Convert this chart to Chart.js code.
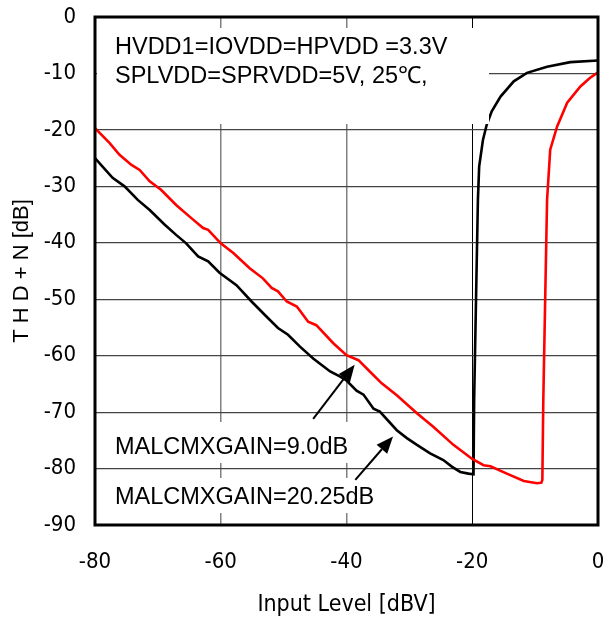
<!DOCTYPE html>
<html>
<head>
<meta charset="utf-8">
<script src="https://cdn.jsdelivr.net/npm/chart.js@4.4.0/dist/chart.umd.min.js"></script>
<style>
  html, body { margin: 0; padding: 0; background: #fff; }
  canvas { display: block; }
</style>
</head>
<body>
<canvas id="thd-chart" width="605" height="630"></canvas>
<script>
// THD+N vs input level, two gain settings
const inputGain2025 = [-80, -78.8, -77.2, -75.3, -73.2, -71.3, -68.9, -67.1, -65.5, -63.6, -62.0, -60.2, -57.5, -55.1, -52.7, -50.9, -49.3, -47.4, -45.3, -42.6, -41.0, -40.0, -38.4, -37.3, -35.7, -34.7, -32.0, -30.4, -28.8, -26.7, -24.6, -23.2, -21.9, -20.6, -19.8, -19.7, -19.4, -19.1, -18.9, -18.3, -17.7, -16.9, -15.5, -13.4, -11.3, -8.1, -4.4, 0];
const thdGain2025 = [-25.0, -26.5, -28.5, -30.0, -32.4, -34.2, -36.8, -38.6, -40.1, -42.4, -43.3, -45.3, -47.5, -50.4, -53.1, -55.1, -56.3, -58.4, -60.5, -62.8, -63.7, -64.4, -66.2, -66.9, -69.4, -69.9, -73.2, -74.6, -75.8, -77.3, -78.5, -79.7, -80.6, -80.9, -81.0, -68.0, -50.0, -32.4, -26.5, -21.8, -19.1, -16.7, -14.1, -11.4, -9.9, -8.8, -8.0, -7.7];

const inputGain90 = [-80, -77.7, -76.1, -74.2, -72.9, -71.3, -69.5, -67.1, -64.4, -62.8, -62.0, -60.0, -58.0, -55.4, -53.3, -51.9, -50.9, -49.5, -47.9, -46.1, -44.8, -42.1, -40.0, -38.1, -36.3, -34.4, -32.0, -28.8, -26.2, -23.0, -20.0, -18.2, -17.1, -14.5, -11.8, -9.7, -9.0, -8.85, -8.7, -8.4, -8.1, -7.6, -6.5, -4.9, -2.8, -1.3, 0];
const thdGain90 = [-19.7, -22.3, -24.4, -26.2, -27.1, -29.1, -30.6, -33.3, -35.9, -37.4, -37.7, -40.1, -41.8, -44.5, -46.3, -48.0, -48.6, -50.4, -51.3, -54.0, -54.6, -57.8, -59.9, -60.8, -62.8, -64.9, -67.0, -70.2, -72.6, -75.8, -78.3, -79.4, -79.6, -80.9, -82.2, -82.6, -82.5, -82.0, -67.9, -50.0, -32.4, -23.5, -19.4, -15.2, -12.3, -10.8, -9.8];

const xTicks = [-80, -60, -40, -20, 0];
const yTicks = [0, -10, -20, -30, -40, -50, -60, -70, -80, -90];

const noteLines = ["HVDD1=IOVDD=HPVDD =3.3V", "SPLVDD=SPRVDD=5V, 25\u2103,"];
const gainLabels = ["MALCMXGAIN=9.0dB", "MALCMXGAIN=20.25dB"];
// arrows [fromX, fromY, toX, toY] in axis units
const gainArrows = [
  [-45.3, -71.2, -38.7, -61.6],
  [-38.6, -82.0, -32.6, -74.3],
];

const narrowFont = "'Liberation Sans Narrow', 'Arial Narrow', 'DejaVu Sans Condensed', 'Liberation Sans', sans-serif";
const textFont = "'Liberation Sans', Arial, sans-serif";

function toPoints(xs, ys) {
  return xs.map((x, i) => ({ x: x, y: ys[i] }));
}

function drawArrow(ctx, x0, y0, x1, y1) {
  const ang = Math.atan2(y1 - y0, x1 - x0);
  const len = 17, half = 7;
  const bx = x1 - len * Math.cos(ang), by = y1 - len * Math.sin(ang);
  ctx.beginPath();
  ctx.moveTo(x0, y0);
  ctx.lineTo(bx, by);
  ctx.stroke();
  ctx.beginPath();
  ctx.moveTo(x1, y1);
  ctx.lineTo(bx + half * Math.sin(ang), by - half * Math.cos(ang));
  ctx.lineTo(bx - half * Math.sin(ang), by + half * Math.cos(ang));
  ctx.closePath();
  ctx.fill();
}

const notesPlugin = {
  id: "notes",
  afterDatasetsDraw(chart) {
    const { ctx, chartArea: area, scales } = chart;
    ctx.save();
    // white boxes behind the notes (they sit on top of grid and curve)
    ctx.fillStyle = "#fff";
    ctx.fillRect(area.left + 2, 28, 489 - area.left - 2, 96);
    ctx.fillRect(area.left + 2, 422, 360 - area.left - 2, 41);
    ctx.fillRect(area.left + 2, 478, 385 - area.left - 2, 35);

    ctx.fillStyle = "#000";
    ctx.font = "23.5px " + textFont;
    ctx.textBaseline = "alphabetic";
    ctx.textAlign = "left";
    ctx.fillText(noteLines[0], 115, 53.5);
    ctx.fillText(noteLines[1], 115, 83);
    ctx.fillText(gainLabels[0], 115, 453.5);
    ctx.fillText(gainLabels[1], 115, 504);

    ctx.strokeStyle = "#000";
    ctx.lineWidth = 2;
    gainArrows.forEach((a) => {
      drawArrow(
        ctx,
        scales.x.getPixelForValue(a[0]),
        scales.y.getPixelForValue(a[1]),
        scales.x.getPixelForValue(a[2]),
        scales.y.getPixelForValue(a[3])
      );
    });
    ctx.restore();
  },
  afterDraw(chart) {
    const { ctx, chartArea: area } = chart;
    ctx.save();
    ctx.strokeStyle = "#000";
    ctx.lineWidth = 3;
    ctx.strokeRect(area.left, area.top, area.right - area.left, area.bottom - area.top);
    ctx.restore();
  },
};

new Chart(document.getElementById("thd-chart"), {
  type: "line",
  data: {
    datasets: [
      {
        label: gainLabels[0],
        data: toPoints(inputGain90, thdGain90),
        borderColor: "#ff0000",
        backgroundColor: "#ff0000",
        borderWidth: 2.6,
        pointRadius: 0,
        tension: 0,
        fill: false,
      },
      {
        label: gainLabels[1],
        data: toPoints(inputGain2025, thdGain2025),
        borderColor: "#000000",
        backgroundColor: "#000000",
        borderWidth: 2.6,
        pointRadius: 0,
        tension: 0,
        fill: false,
      },
    ],
  },
  options: {
    responsive: false,
    animation: false,
    devicePixelRatio: 1,
    layout: { padding: { left: 0, right: 7, top: 17, bottom: 0 } },
    plugins: {
      legend: { display: false },
      tooltip: { enabled: false },
    },
    scales: {
      x: {
        type: "linear",
        min: -80,
        max: 0,
        afterFit: (scale) => {
          scale.height = 105;
          scale.paddingLeft = 0;
          scale.paddingRight = 0;
        },
        afterBuildTicks: (scale) => { scale.ticks = xTicks.map((v) => ({ value: v })); },
        border: { display: false },
        grid: {
          drawTicks: false,
          color: (c) => (c.tick && c.tick.value === -20 ? "#000" : "#808080"),
          lineWidth: (c) => (c.tick && c.tick.value === -20 ? 1 : 1.5),
        },
        ticks: {
          padding: 24,
          color: "#000",
          font: { family: narrowFont, size: 22 },
        },
        title: {
          display: true,
          text: "Input Level [dBV]",
          color: "#000",
          font: { family: narrowFont, size: 23 },
          padding: { top: 0, bottom: 11 },
        },
      },
      y: {
        type: "linear",
        min: -90,
        max: 0,
        afterFit: (scale) => {
          scale.width = 95;
          scale.paddingTop = 0;
          scale.paddingBottom = 0;
        },
        afterBuildTicks: (scale) => { scale.ticks = yTicks.map((v) => ({ value: v })); },
        border: { display: false },
        grid: {
          drawTicks: false,
          color: "#444",
          lineWidth: 1.2,
        },
        ticks: {
          padding: 19,
          color: "#000",
          font: { family: narrowFont, size: 22 },
        },
        title: {
          display: true,
          text: "T H D + N [dB]",
          color: "#000",
          font: { family: textFont, size: 22 },
          padding: { top: 9, bottom: 0 },
        },
      },
    },
  },
  plugins: [notesPlugin],
});
</script>
</body>
</html>
